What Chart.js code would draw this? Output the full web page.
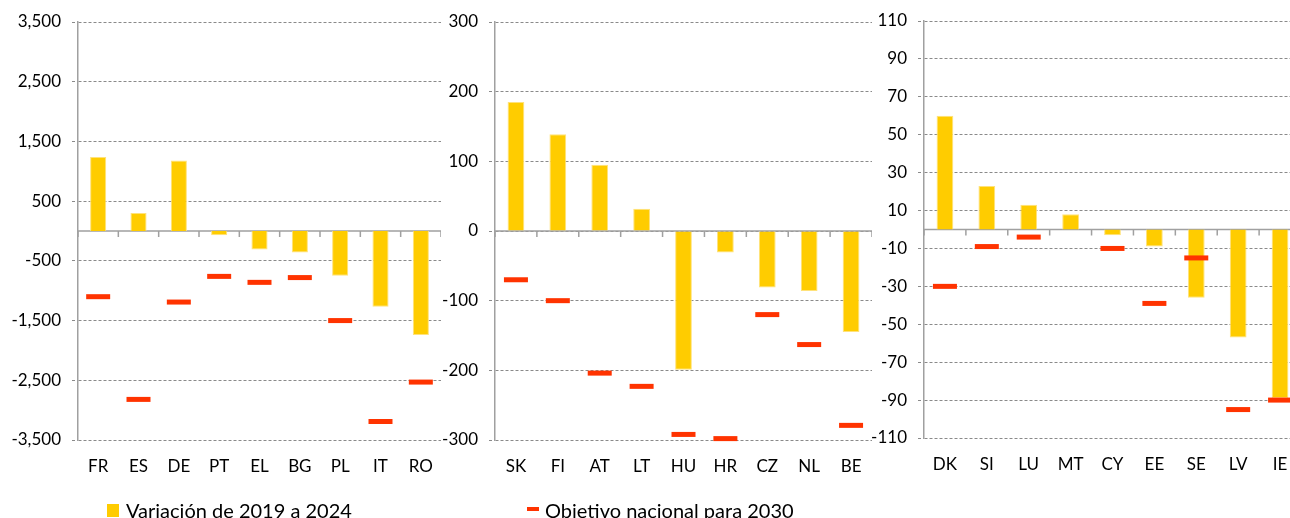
<!DOCTYPE html>
<html><head><meta charset="utf-8">
<script src="https://cdn.jsdelivr.net/npm/chart.js@4.4.1/dist/chart.umd.min.js"></script>
<style>
html,body{margin:0;padding:0;background:#fff;width:1290px;height:518px;overflow:hidden;position:relative;font-family:Lato,sans-serif}
canvas{position:absolute;top:0}
.lt{position:absolute;font-size:20px;line-height:20px;color:#000;white-space:nowrap}
.sq{position:absolute;background:#FFCC00}
</style></head><body>
<canvas id="c1"></canvas>
<canvas id="c2"></canvas>
<canvas id="c3"></canvas>
<div class="sq" style="left:107px;top:504px;width:12px;height:13px"></div>
<div class="lt" id="l1" style="left:126px;top:500px"></div>
<div class="sq" style="left:527px;top:507px;width:12px;height:4px;background:#FF3300"></div>
<div class="lt" id="l2" style="left:545px;top:500px"></div>
<script>
const seriesChange = 'Variación de 2019 a 2024';
const seriesTarget = 'Objetivo nacional para 2030';

const cats1 = ['FR','ES','DE','PT','EL','BG','PL','IT','RO'];
const change1 = [1240, 300, 1180, -70, -310, -360, -750, -1270, -1740];
const target1 = [-1100, -2820, -1190, -760, -860, -780, -1500, -3190, -2530];
const ticks1 = [-3500, -2500, -1500, -500, 500, 1500, 2500, 3500];

const cats2 = ['SK','FI','AT','LT','HU','HR','CZ','NL','BE'];
const change2 = [185, 139, 95, 32, -199, -31, -81, -86, -145];
const target2 = [-70, -100, -204, -223, -292, -298, -120, -163, -279];
const ticks2 = [-300, -200, -100, 0, 100, 200, 300];

const cats3 = ['DK','SI','LU','MT','CY','EE','SE','LV','IE'];
const change3 = [60, 23, 13, 8, -3, -9, -36, -57, -89];
const target3 = [-30, -9, -4, null, -10, -39, -15, -95, -90];
const ticks3 = [-110, -90, -70, -50, -30, -10, 10, 30, 50, 70, 90, 110];

document.getElementById('l1').textContent = seriesChange;
document.getElementById('l2').textContent = seriesTarget;

const BAR = '#FFCC00', MARK = '#FF3300', GRID = '#8a8a8a', AXIS = '#a0a0a0';
const FONT = {family: 'Lato, sans-serif', size: 17};

const zeroLine = {
  id: 'zeroLine',
  beforeDatasetsDraw(chart) {
    const x = chart.scales.x, y = chart.scales.y, ctx = chart.ctx;
    const y0 = y.getPixelForValue(0);
    ctx.save();
    ctx.strokeStyle = AXIS; ctx.lineWidth = 1.5;
    ctx.beginPath();
    ctx.moveTo(chart.chartArea.left, y0); ctx.lineTo(chart.chartArea.right, y0);
    for (let i = 0; i <= chart.data.labels.length; i++) {
      const px = x.getPixelForValue(i - 0.5);
      ctx.moveTo(px, y0); ctx.lineTo(px, y0 + 6);
    }
    ctx.stroke();
    ctx.restore();
  }
};

const panels = [
  {id:'c1', left:0, width:441, yW:78, top:22, bottom:440, cats:cats1, change:change1, target:target1, ticks:ticks1},
  {id:'c2', left:430, width:442, yW:65, top:22, bottom:440, cats:cats2, change:change2, target:target2, ticks:ticks2},
  {id:'c3', left:860, width:441, yW:64, top:21, bottom:438, cats:cats3, change:change3, target:target3, ticks:ticks3}
];

panels.forEach(p => {
  const cv = document.getElementById(p.id);
  cv.width = p.width; cv.height = 518;
  cv.style.left = p.left + 'px';
  cv.style.width = p.width + 'px'; cv.style.height = '518px';
  new Chart(cv, {
    data: {
      labels: p.cats,
      datasets: [
        {type:'line', label: seriesTarget, data: p.target, showLine:false, order:1, clip:false,
         pointStyle:'line', pointRadius:12, pointHoverRadius:12, pointBorderWidth:5, pointHoverBorderWidth:5,
         borderColor: MARK, backgroundColor: MARK},
        {type:'bar', label: seriesChange, data: p.change, order:2,
         backgroundColor: BAR, borderColor:'#FFE27A', borderWidth:1,
         barPercentage:0.4, categoryPercentage:1}
      ]
    },
    options: {
      responsive:false, animation:false, devicePixelRatio:1,
      layout:{autoPadding:false, padding:{top:p.top, left:0, right:0, bottom:0}},
      plugins:{legend:{display:false}, tooltip:{enabled:false}},
      scales:{
        x:{
          type:'category', offset:true,
          grid:{display:false}, border:{display:false},
          ticks:{font:FONT, color:'#000', padding:8, maxRotation:0, autoSkip:false},
          afterFit(s){ s.height = 518 - p.bottom; s.paddingLeft = 0; s.paddingRight = 0; }
        },
        y:{
          type:'linear', min:p.ticks[0], max:p.ticks[p.ticks.length-1],
          afterBuildTicks(s){ s.ticks = p.ticks.map(v => ({value:v})); },
          afterFit(s){ s.width = p.yW; s.paddingTop = 0; s.paddingBottom = 0; },
          grid:{color:GRID, lineWidth:1, tickLength:6, drawTicks:true, tickColor:GRID, tickBorderDash:[3,2]},
          border:{display:true, color:AXIS, width:1.5, dash:[3,2]},
          ticks:{font:FONT, color:'#000', padding:11, callback: v => v.toLocaleString('en-US')}
        }
      }
    },
    plugins:[zeroLine]
  });
});
</script>
</body></html>
